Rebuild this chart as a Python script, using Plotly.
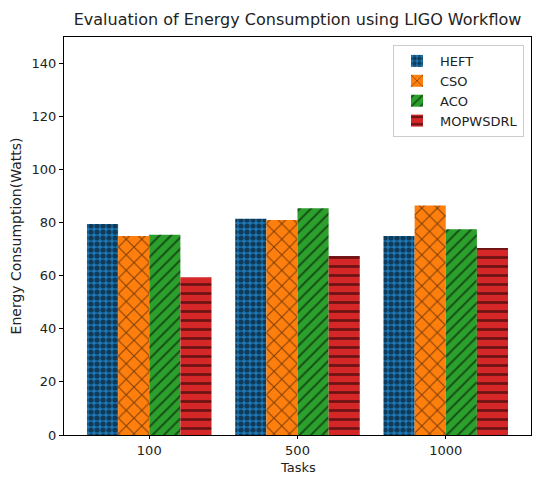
import plotly.graph_objects as go

tasks = ["100", "500", "1000"]
methods = ["HEFT", "CSO", "ACO", "MOPWSDRL"]
heft = [79.5, 81.5, 75.0]
cso = [75.0, 81.0, 86.5]
aco = [75.5, 85.5, 77.5]
mopwsdrl = [59.5, 67.5, 70.5]
y_ticks = [0, 20, 40, 60, 80, 100, 120, 140]

series = [heft, cso, aco, mopwsdrl]
colors = ["#1f77b4", "#ff7f0e", "#2ca02c", "#d62728"]
patterns = [(".", 6, 0.6), ("x", 11, 0.18), ("/", 8, 0.25), ("-", 9, 0.3)]

# page has an 8px body margin; figure sized to fit inside the window
W, H = 526, 467
L, R, T, B = 56, 3, 29, 40

xpos = list(range(len(tasks)))
fig = go.Figure()
for name, vals, col, (shp, sz, sol) in zip(methods, series, colors, patterns):
    fig.add_trace(go.Bar(
        x=xpos, y=vals, name=name,
        marker=dict(color=col, line=dict(width=0),
                    pattern=dict(shape=shp, size=sz, solidity=sol,
                                 fgcolor="black", bgcolor=col, fillmode="overlay")),
    ))

fig.update_layout(
    width=W, height=H,
    margin=dict(l=L, r=R, t=T, b=B, autoexpand=False),
    paper_bgcolor="white", plot_bgcolor="white",
    font=dict(family="DejaVu Sans", size=13, color="#222"),
    barmode="group", bargap=0.16, bargroupgap=0,
    title=dict(text="Evaluation of Energy Consumption using LIGO Workflow",
               x=(L + (W - L - R) / 2) / W, xanchor="center", y=1 - 11 / H, yanchor="middle",
               font=dict(size=16, color="#222")),
    legend=dict(x=0.985, y=0.98, xanchor="right", yanchor="top",
                bordercolor="#cccccc", borderwidth=1, bgcolor="rgba(255,255,255,0.8)",
                font=dict(size=13), tracegroupgap=5, itemwidth=36),
    showlegend=True,
    annotations=[dict(text="Tasks", xref="paper", yref="paper", x=0.5, y=0,
                      xanchor="center", yanchor="middle", yshift=-32, showarrow=False,
                      font=dict(size=13, color="#222"))],
)
fig.update_xaxes(
    tickvals=xpos, ticktext=tasks, range=[-0.575, 2.575], automargin=False,
    showline=True, linecolor="black", linewidth=1, mirror=True,
    ticks="outside", ticklen=3, tickcolor="black", showgrid=False, zeroline=False,
)
fig.update_yaxes(
    range=[0, 150], tickvals=y_ticks, automargin=False,
    showline=True, linecolor="black", linewidth=1, mirror=True,
    ticks="outside", ticklen=4, tickcolor="black", showgrid=False, zeroline=False,
    title=dict(text="Energy Consumption(Watts)", standoff=6, font=dict(size=14)),
)
fig.write_html("out.html")
